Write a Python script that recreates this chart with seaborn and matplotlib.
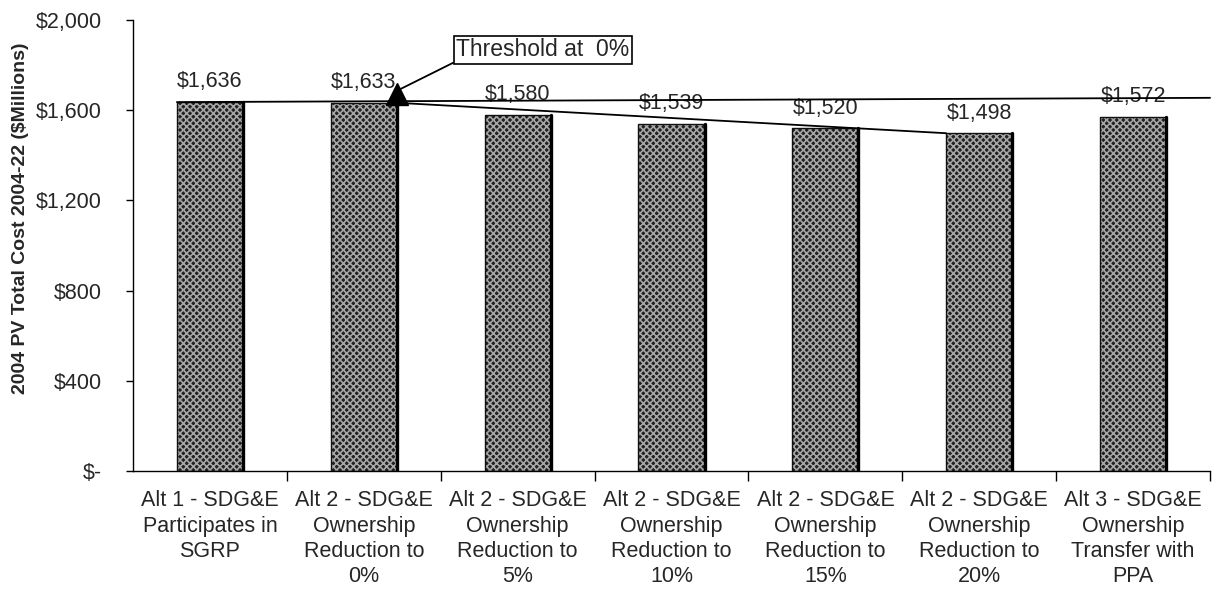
import matplotlib
matplotlib.use("Agg")
import matplotlib.pyplot as plt
import seaborn as sns
import pandas as pd
import numpy as np
from matplotlib.patches import Rectangle

categories = [
    "Alt 1 - SDG&E\nParticipates in\nSGRP",
    "Alt 2 - SDG&E\nOwnership\nReduction to\n0%",
    "Alt 2 - SDG&E\nOwnership\nReduction to\n5%",
    "Alt 2 - SDG&E\nOwnership\nReduction to\n10%",
    "Alt 2 - SDG&E\nOwnership\nReduction to\n15%",
    "Alt 2 - SDG&E\nOwnership\nReduction to\n20%",
    "Alt 3 - SDG&E\nOwnership\nTransfer with\nPPA",
]
values = [1636, 1633, 1580, 1539, 1520, 1498, 1572]
value_labels = ["$1,636", "$1,633", "$1,580", "$1,539", "$1,520", "$1,498", "$1,572"]
yticks = [0, 400, 800, 1200, 1600, 2000]
ytick_labels = ["$-", "$400", "$800", "$1,200", "$1,600", "$2,000"]
flat_line_values = [1636, 1655]      # reference line from Alt 1 level to right edge
threshold_line_values = [1633, 1498]  # declining line from Alt 2 0% to Alt 2 20%
annotation_text = "Threshold at  0%"
ylabel = "2004 PV Total Cost 2004-22 ($Millions)"

sns.set_theme(style="white")
plt.rcParams["font.family"] = ["Liberation Sans", "DejaVu Sans"]
plt.rcParams["hatch.linewidth"] = 1.2

FS = 15.5

df = pd.DataFrame({"cat": categories, "val": values})

fig = plt.figure(figsize=(12.26, 5.89), dpi=100)
ax = fig.add_axes([0.1085, 0.2003, 0.8785, 0.7657])

sns.barplot(data=df, x="cat", y="val", color="#202020", width=0.43,
            saturation=1, ax=ax, zorder=2)

bar_w = 0.43
for p in ax.patches:
    p.set_hatch("xxxxx")
    p.set_edgecolor("#a6a6a6")
    p.set_linewidth(0)
    x0, y0 = p.get_x(), p.get_y()
    w, h = p.get_width(), p.get_height()
    ax.add_patch(Rectangle((x0, y0), w, h, fill=False, edgecolor="#111111",
                           linewidth=1.0, zorder=3))
    ax.plot([x0 + w, x0 + w], [y0, y0 + h], color="black", lw=2.4, zorder=3)

ax.set_ylim(0, 2000)
ax.set_xlim(-0.5, 6.5)

# lines
ax.plot([0 - bar_w / 2, 6.5], flat_line_values, color="black", lw=1.3, zorder=4,
        clip_on=False)
ax.plot([1 + bar_w / 2, 5 - bar_w / 2], threshold_line_values, color="black",
        lw=1.3, zorder=4)
ax.plot([1 + bar_w / 2], [values[1] + 40], marker="^", color="black",
        markersize=16, zorder=5)

# value labels
for i, (v, lab) in enumerate(zip(values, value_labels)):
    ax.annotate(lab, (i, v), xytext=(0, 7), textcoords="offset points",
                ha="center", va="bottom", fontsize=FS)

# threshold annotation
ax.annotate(annotation_text, xy=(1 + bar_w / 2 + 0.02, values[1] + 60),
            xytext=(1.6, 1868), ha="left", va="center", fontsize=16.5,
            bbox=dict(boxstyle="square,pad=0.1", fc="white", ec="black", lw=1.2),
            arrowprops=dict(arrowstyle="-", color="black", lw=1.3,
                            shrinkA=0, shrinkB=0,
                            relpos=(0, 0)))

ax.set_yticks(yticks)
ax.set_yticklabels(ytick_labels, fontsize=FS)
ax.set_xticks(range(len(categories)))
ax.set_xticklabels(categories, fontsize=FS, linespacing=1.27)
ax.set_xticks(np.arange(0.5, 7, 1.0), minor=True)
ax.tick_params(axis="x", which="major", length=0, pad=14)
ax.tick_params(axis="x", which="minor", length=7, width=1, color="black",
               direction="out", bottom=True)
ax.tick_params(axis="y", length=5, width=1, color="black", direction="out",
               left=True, pad=17.5)
ax.set_xlabel("")
ax.set_ylabel(ylabel, fontsize=14, fontweight="bold")
ax.yaxis.set_label_coords(-0.0965, 0.56)

for s in ["top", "right"]:
    ax.spines[s].set_visible(False)
for s in ["left", "bottom"]:
    ax.spines[s].set_color("black")
    ax.spines[s].set_linewidth(1.0)

fig.savefig("out.png", dpi=100)
